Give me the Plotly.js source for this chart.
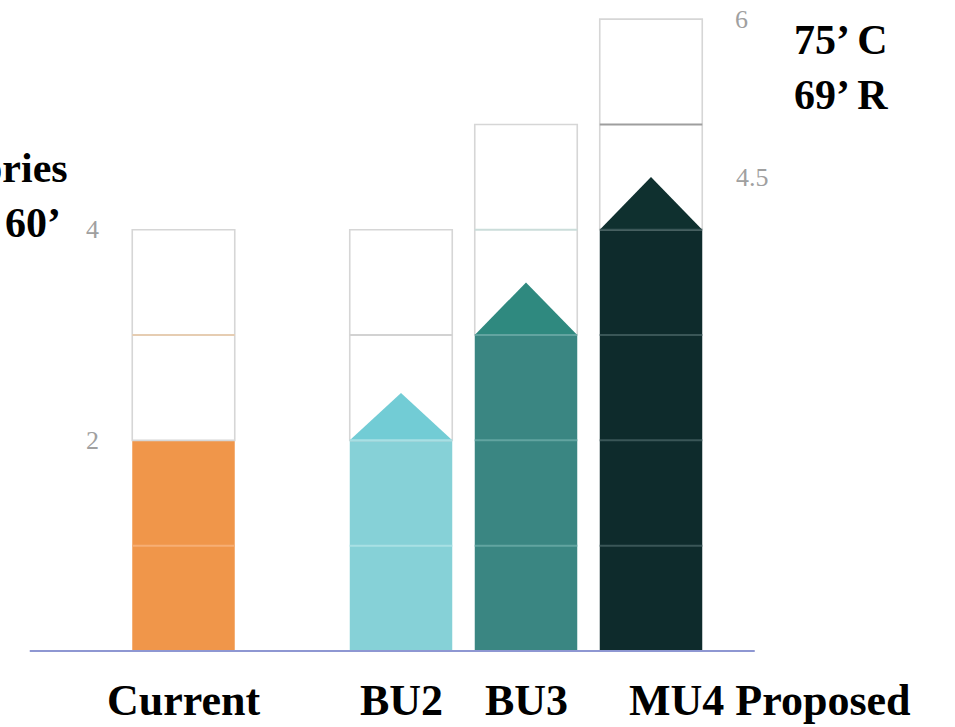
<!DOCTYPE html>
<html>
<head>
<meta charset="utf-8">
<script src="https://cdn.plot.ly/plotly-3.0.1.min.js"></script>
<style>
  html, body { margin: 0; padding: 0; background: #ffffff; }
  #chart { width: 955px; height: 727px; }
</style>
</head>
<body>
<div id="chart"></div>
<script>
// Building options and their heights, in stories
const categories   = ['Current', 'BU2', 'BU3', 'MU4 Proposed'];
const builtStories = [2, 2, 3, 4];          // filled part of each column
const envelopeTop  = [4, 4, 5, 6];          // top of the outlined envelope
const arrowTip     = [null, 2.45, 3.5, 4.5]; // tip of the growth arrow
const leftTicks    = [2, 4];
const rightTicks   = [4.5, 6];
const heightNotes  = ['75’ C', '69’ R'];
const sideNotes    = ['Stories', '60’'];

// Styling
const fillColors   = ['#F0964A', '#86D1D7', '#3A8682', '#0E2B2C'];
const arrowColors  = ['#F0964A', '#72CCD5', '#2F897F', '#0F302F'];
const seamColors   = ['#F7AE74', '#A8E0E4', '#62A4A0', '#3A5657'];
const midColors    = ['#E6CDB2', '#D2D2D2', '#CBDDDA', '#9E9E9E'];
const slotX = [0, 1.74, 2.74, 3.74];
const barW = 0.82;
const half = barW / 2;
const serif = 'Liberation Serif, Times New Roman, serif';

const traces = [];

// Filled stories
traces.push({
  type: 'bar', x: slotX, y: builtStories, width: barW,
  marker: { color: fillColors, line: { width: 0 } },
  hoverinfo: 'skip', showlegend: false
});

// Outlined envelope above the filled stories
traces.push({
  type: 'bar', x: slotX, base: builtStories,
  y: envelopeTop.map((t, i) => t - builtStories[i]), width: barW,
  marker: { color: 'rgba(255,255,255,0)', line: { color: '#D6D6D6', width: 1.6 } },
  hoverinfo: 'skip', showlegend: false
});

// Growth arrows on top of the filled stories
arrowTip.forEach((tip, i) => {
  if (tip === null) return;
  const b = builtStories[i], cx = slotX[i];
  traces.push({
    type: 'scatter', mode: 'lines',
    x: [cx - half, cx, cx + half, cx - half],
    y: [b, tip, b, b],
    fill: 'toself', fillcolor: arrowColors[i],
    line: { width: 0, color: arrowColors[i] },
    hoverinfo: 'skip', showlegend: false
  });
});

const shapes = [];
// Seams between filled stories
builtStories.forEach((b, i) => {
  for (let s = 1; s <= b; s++) {
    if (s === b && arrowTip[i] === null) continue;
    shapes.push({
      type: 'line', xref: 'x', yref: 'y', layer: 'above',
      x0: slotX[i] - half, x1: slotX[i] + half, y0: s, y1: s,
      line: { color: seamColors[i], width: 2 }
    });
  }
});
// Story divisions inside the envelope
envelopeTop.forEach((t, i) => {
  for (let s = builtStories[i] + 1; s < t; s++) {
    shapes.push({
      type: 'line', xref: 'x', yref: 'y', layer: 'above',
      x0: slotX[i] - half, x1: slotX[i] + half, y0: s, y1: s,
      line: { color: midColors[i], width: 2 }
    });
  }
});
// Ground line
shapes.push({
  type: 'line', xref: 'x', yref: 'y', layer: 'above',
  x0: -1.23, x1: 4.57, y0: 0, y1: 0,
  line: { color: '#8E97D2', width: 2 }
});

const annotations = [];
const tickFont = { family: serif, size: 26, color: '#A0A0A0' };
leftTicks.forEach(v => annotations.push({
  xref: 'x', yref: 'y', x: -0.73, y: v, text: String(v),
  showarrow: false, xanchor: 'center', yanchor: 'middle', font: tickFont
}));
rightTicks.forEach(v => annotations.push({
  xref: 'x', yref: 'y', x: v % 1 ? 4.55 : 4.46, y: v, text: String(v),
  showarrow: false, xanchor: 'center', yanchor: 'middle', font: tickFont
}));

const labelFont = { family: serif, size: 44, color: '#000000' };
categories.forEach((c, i) => {
  const last = i === categories.length - 1;
  annotations.push({
    xref: 'x', yref: 'y', x: last ? slotX[i] - 0.19 : slotX[i], y: -0.47,
    text: '<b>' + c + '</b>', showarrow: false,
    xanchor: last ? 'left' : 'center', yanchor: 'middle', font: labelFont
  });
});

const noteFont = { family: serif, size: 42, color: '#000000' };
heightNotes.forEach((t, i) => annotations.push({
  xref: 'paper', yref: 'paper', x: 0.829, y: [0.945, 0.869][i],
  text: '<b>' + t + '</b>', showarrow: false,
  xanchor: 'left', yanchor: 'middle', font: noteFont
}));
sideNotes.forEach((t, i) => annotations.push({
  xref: 'paper', yref: 'paper', x: [0.0735, 0.066][i], y: [0.769, 0.693][i],
  text: '<b>' + t + '</b>', showarrow: false,
  xanchor: 'right', yanchor: 'middle', font: noteFont
}));

const layout = {
  width: 955, height: 727,
  margin: { l: 0, r: 0, t: 0, b: 0, pad: 0 },
  paper_bgcolor: '#ffffff', plot_bgcolor: '#ffffff',
  barmode: 'overlay', showlegend: false,
  xaxis: { range: [-1.468, 6.172], visible: false, fixedrange: true },
  yaxis: { range: [-0.722, 6.182], visible: false, fixedrange: true },
  shapes: shapes,
  annotations: annotations
};

Plotly.newPlot('chart', traces, layout, { displayModeBar: false, staticPlot: true });
</script>
</body>
</html>
